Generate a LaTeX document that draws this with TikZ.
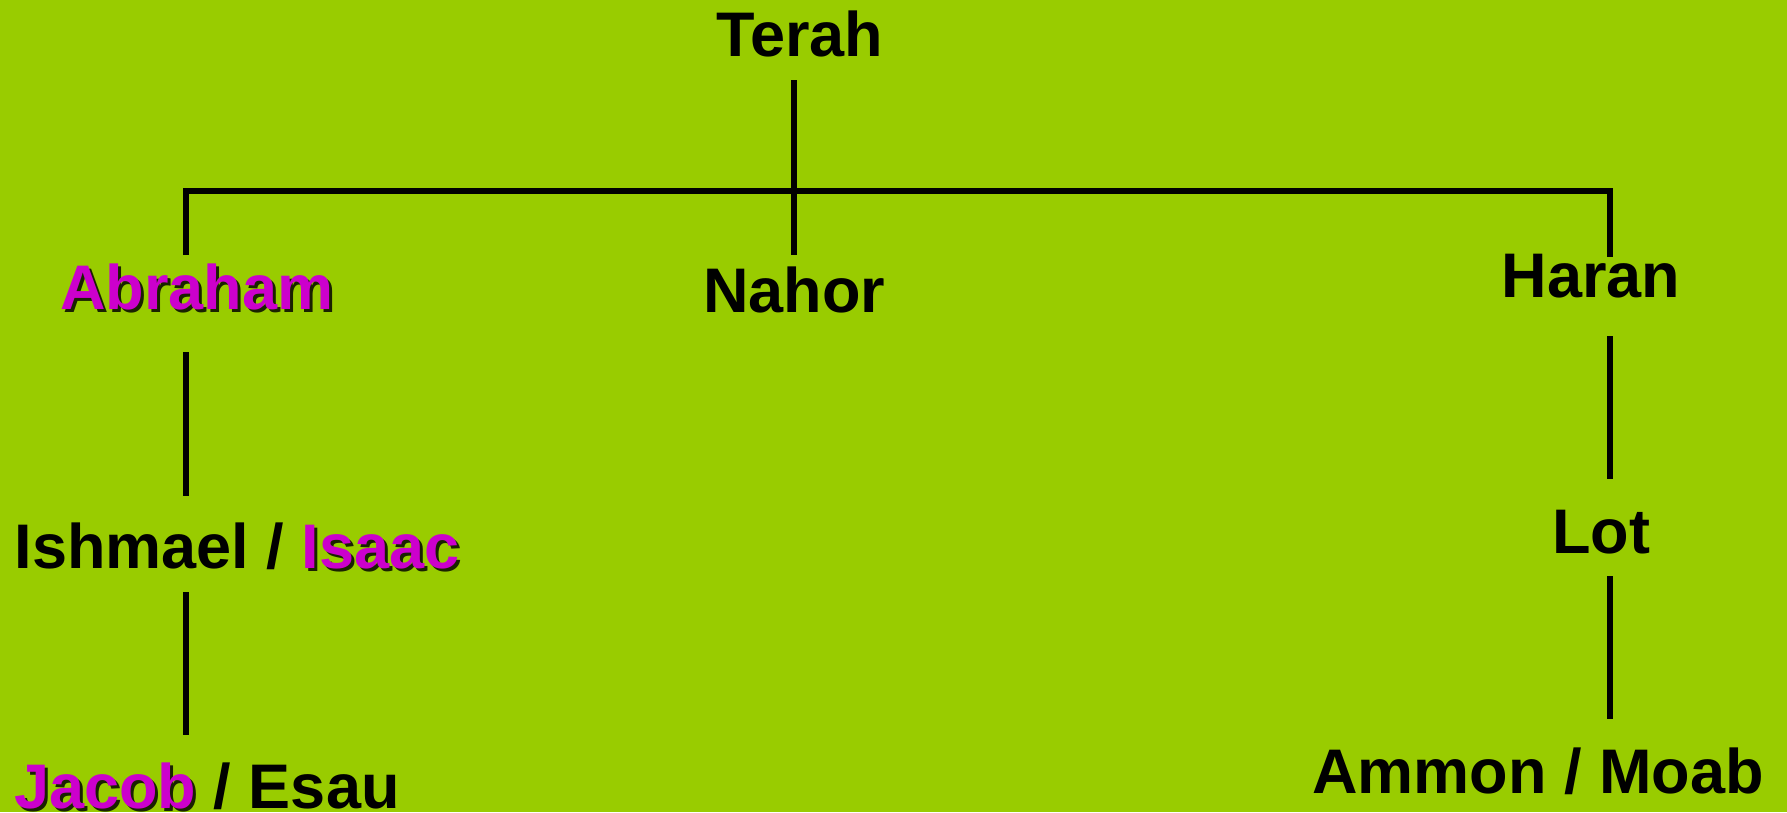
\documentclass[tikz,border=0pt]{standalone}
\usepackage{fontspec}
\setmainfont{Liberation Sans}
\definecolor{bggreen}{HTML}{99CC00}
\definecolor{mag}{HTML}{CC00CC}
\definecolor{shadowc}{HTML}{1A2200}
\newcommand\shad[1]{\leavevmode\rlap{\kern3pt\raisebox{-3pt}{\color{shadowc}#1}}{\color{mag}#1}}
\tikzset{
  pname/.style={anchor=base, inner sep=0pt, font=\fontsize{63}{70}\selectfont\bfseries},
  link/.style={line width=6pt, line cap=butt}
}
\begin{document}
\begin{tikzpicture}[x=1pt,y=-1pt]
\fill[bggreen] (0,0) rectangle (1787,812);
\useasboundingbox (0,0) rectangle (1787,812);
% names
\node[pname] (terah) at (800,56) {Terah};
\node[pname] (nahor) at (794,312) {Nahor};
\node[pname] (abraham) at (197,309) {\shad{Abraham}};
\node[pname] (isaac) at (237,568) {Ishmael / \shad{Isaac}};
\node[pname] (jacob) at (207,808) {\shad{Jacob} / Esau};
\node[pname] (haran) at (1591,297) {Haran};
\node[pname] (lot) at (1601,553) {Lot};
\node[pname] (ammon) at (1538,793) {Ammon / Moab};
% connector end points
\coordinate (t1) at (794,80);
\coordinate (t2) at (794,255);
\coordinate (hl) at (186,191);
\coordinate (hr) at (1610,191);
\coordinate (a1) at (186,255);
\coordinate (h1) at (1610,257);
\coordinate (a2) at (186,352);
\coordinate (a3) at (186,496);
\coordinate (a4) at (186,592);
\coordinate (a5) at (186,735);
\coordinate (r2) at (1610,336);
\coordinate (r3) at (1610,479);
\coordinate (r4) at (1610,576);
\coordinate (r5) at (1610,719);
% connectors
\draw[link] (t1) -- (t2);
\draw[link, line join=miter] (a1) -- (hl) -- (hr) -- (h1);
\draw[link] (a2) -- (a3);
\draw[link] (a4) -- (a5);
\draw[link] (r2) -- (r3);
\draw[link] (r4) -- (r5);
\end{tikzpicture}
\end{document}
